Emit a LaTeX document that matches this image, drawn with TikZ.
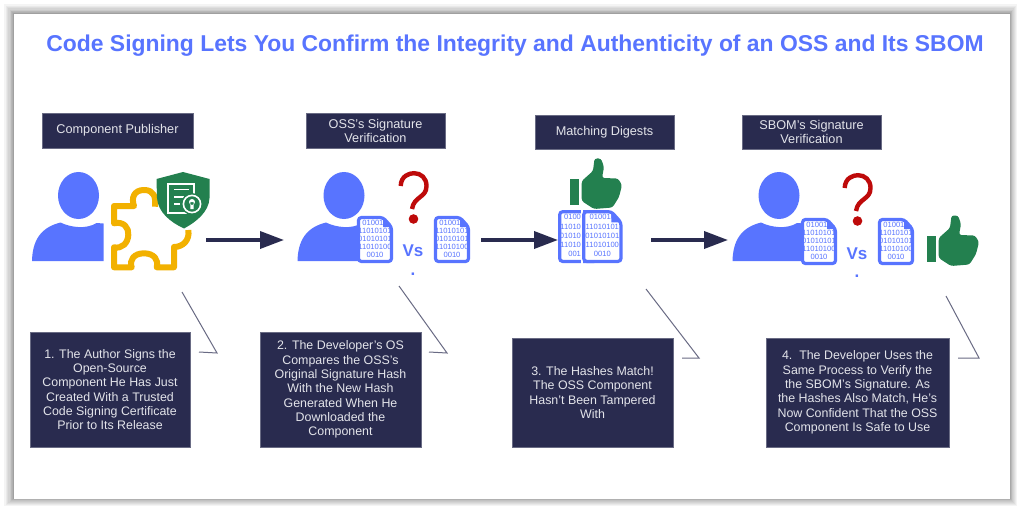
\documentclass[tikz,border=0pt]{standalone}
\usepackage{fontspec}
\setmainfont{Liberation Sans}
\usetikzlibrary{arrows.meta}
\definecolor{navy}{HTML}{292B4F}
\definecolor{azure}{HTML}{5874FF}
\definecolor{leaf}{HTML}{23804F}
\definecolor{gold}{HTML}{F2B100}
\definecolor{crimson}{HTML}{BE0A0A}
\definecolor{paper}{HTML}{E3E4EA}
\tikzset{
  pics/person/.style={code={
    \fill[azure] (0,0) ellipse [x radius=20.5,y radius=23.5];
    \fill[azure] (-46.5,65.5) .. controls (-46,45) and (-38,32) .. (-18,27)
      .. controls (-8,32) and (8,34) .. (18,27.5) -- (25,28) -- (25,65.5) -- cycle;
  }},
  pics/query/.style={code={
    \draw[crimson,line width=4.4pt] (-12.3,15) .. controls (-12,5) and (-4,2.2) .. (1,2.2)
      .. controls (8,2.2) and (13.5,7) .. (13.5,15) .. controls (13.5,27) and (1,25) .. (-1,38);
    \fill[crimson] (0.5,48) circle (4.8);
  }},
  pics/approve/.style={code={
    \fill[leaf] (1,19) rectangle (9.5,44.5);
    \fill[leaf,rounded corners=2.5pt] (12.7,21) -- (24,11) -- (25.5,-1.5) -- (32,-1.5) -- (35,7) -- (33,18)
      -- (49,18.5) -- (53,25) -- (50,37) -- (43.5,47.5) -- (25,49) -- (12.7,41) -- cycle;
  }},
  pics/digest/.style={code={
    \draw[docsheet] (1.5,1.5) -- (26,1.5) -- (34.5,11) -- (34.5,45.5) -- (1.5,45.5) -- cycle;
    \begin{scope}
      \clip (3,3) rectangle (33,44);
      \foreach \row/\ypos/\bits in {a/6.5/010010,b/15/11010101,c/23/01010101,d/31/11010100,e/39/0010}
        \node[digits] (#1\row) at (18,\ypos) {\bits};
    \end{scope}
    \fill[azure] (26,1.5) -- (26,11) -- (34.5,11) -- cycle;
  }},
  pics/halfdigest/.style={code={
    \draw[docsheet] (1.5,1.5) -- (34.5,1.5) -- (34.5,45.5) -- (1.5,45.5) -- cycle;
    \foreach \row/\ypos/\bits in {a/6.5/0100,b/15/11010,c/23/01010,d/31/11010,e/39/001}
      \node[digits,anchor=east] (#1\row) at (20.5,\ypos) {\bits};
  }},
  docsheet/.style={draw=azure,line width=3.2pt,fill=white,rounded corners=3pt},
  digits/.style={text=azure,inner sep=0pt,font=\fontsize{7.6}{9}\selectfont},
  headbox/.style={fill=navy,draw=navy!70!white,line width=0.5pt,text=paper,align=center,inner sep=0pt,
    font=\fontsize{12.7}{14}\selectfont},
  capbox/.style={fill=navy,draw=navy!70!white,line width=0.5pt,text=paper,align=center,inner sep=0pt,
    font=\fontsize{12.4}{14.3}\selectfont},
  flow/.style={navy,line width=3.6pt,-{Triangle[length=24pt,width=17pt]}},
  callout/.style={draw=navy!70!white,line width=1pt},
  versus/.style={text=azure,inner sep=0pt,font=\fontsize{17}{17}\selectfont\bfseries}
}
\begin{document}
\begin{tikzpicture}[x=1pt,y=-1pt]
  \useasboundingbox (0,0) rectangle (1024,513);
  \fill[white] (0,0) rectangle (1024,513);

  % card and its shadow
  \foreach \grow in {12,11,...,1}
    \fill[black,opacity=0.045] (14-\grow*\grow*0.07,14-\grow*\grow*0.07) rectangle (1010+\grow*\grow*0.05,498.5+\grow*\grow*0.05);
  \fill[white] (14,14) rectangle (1010,498.5);

  \node[text=azure,inner sep=0pt,font=\fontsize{22.9}{25}\selectfont\bfseries] (title) at (515,46)
    {Code Signing Lets You Confirm the Integrity and Authenticity of an OSS and Its SBOM};

  % headings
  \node[headbox,minimum width=151pt,minimum height=35pt] (pubhead) at (117.5,130.5) {Component Publisher};
  \node[headbox,minimum width=139pt,minimum height=35pt] (osshead) at (375.5,130.5) {OSS's Signature\\Verification};
  \node[headbox,minimum width=139pt,minimum height=34pt] (mathead) at (604.5,132) {Matching Digests};
  \node[headbox,minimum width=139pt,minimum height=34pt] (sbohead) at (811.5,132) {SBOM's Signature\\Verification};

  % step 1
  \pic at (78.5,195.5) {person};
  \draw[gold,line width=6pt,line join=round] (155,206.7) .. controls (156,197) and (154,190) .. (144,190)
    .. controls (134,190) and (131,198) .. (134,206) -- (114,206) -- (114,223.3)
    .. controls (124,221) and (129,228) .. (128.3,235) .. controls (128,243) and (122,249) .. (114,247.3)
    -- (114,267.3) -- (131.7,267.3) .. controls (129,260) and (134,253.3) .. (144,253.3)
    .. controls (154,253.3) and (159,260) .. (156.7,267.3) -- (174,267.3) -- (174,247)
    .. controls (183,247) and (190,240) .. (188.3,230);
  \fill[leaf] (183,172) -- (209.5,179) -- (209.5,198) .. controls (209,212) and (196,222) .. (184,228.5)
    .. controls (170,222) and (158,212) .. (157,198) -- (156.5,179) -- cycle;
  \draw[white,line width=1.8pt] (187,213) -- (168,213) -- (168,184) -- (194,184) -- (194,197);
  \draw[white,line width=1.8pt] (174,189.5) -- (189,189.5) (174,197) -- (184,197) (174,204) -- (180,204);
  \fill[leaf] (192,204) circle (11);
  \draw[white,line width=1.6pt] (192,204) circle (8.6);
  \fill[white] (192,202) circle (3) (190.3,202) rectangle (193.7,209);

  % step 2
  \pic at (344,195.5) {person};
  \pic at (357,216) {digest=p};
  \pic at (413,171) {query};
  \node[versus] (vsa) at (413,251) {Vs};
  \node[versus] (dota) at (413,274) {.};
  \pic at (434,216) {digest=q};

  % step 3
  \pic at (569,160) {approve};
  \pic[scale=1.13] at (558,210) {halfdigest=r};
  \fill[white] (580.5,208) rectangle (582.5,265);
  \pic[scale=1.13] at (582,210) {digest=s};

  % step 4
  \pic at (779,195.5) {person};
  \pic at (801,218) {digest=t};
  \pic at (857,173) {query};
  \node[versus] (vsb) at (857,254) {Vs};
  \node[versus] (dotb) at (857,276) {.};
  \pic at (878,218) {digest=u};
  \pic at (926,217) {approve};

  % arrows
  \coordinate (flowa) at (206,240);
  \coordinate (flowb) at (284,240);
  \coordinate (flowc) at (481,240);
  \coordinate (flowd) at (558,240);
  \coordinate (flowe) at (651,240);
  \coordinate (flowf) at (728,240);
  \draw[flow] (flowa) -- (flowb);
  \draw[flow] (flowc) -- (flowd);
  \draw[flow] (flowe) -- (flowf);

  % captions
  \node[capbox,minimum width=160pt,minimum height=115pt] (capa) at (110,389.5)
    {1. The Author Signs the\\Open-Source\\Component He Has Just\\Created With a Trusted\\Code Signing Certificate\\Prior to Its Release};
  \node[capbox,minimum width=161pt,minimum height=115pt] (capb) at (340.5,389.5)
    {2. The Developer's OS\\Compares the OSS's\\Original Signature Hash\\With the New Hash\\Generated When He\\Downloaded the\\Component};
  \node[capbox,minimum width=161pt,minimum height=109pt] (capc) at (592.5,392.5)
    {3. The Hashes Match!\\The OSS Component\\Hasn't Been Tampered\\With};
  \node[capbox,minimum width=183pt,minimum height=109pt] (capd) at (857.5,392.5)
    {4.\ \ The Developer Uses the\\Same Process to Verify the\\the SBOM's Signature. As\\the Hashes Also Match, He's\\Now Confident That the OSS\\Component Is Safe to Use};

  % callout strokes
  \coordinate (tipa) at (182,292);
  \coordinate (kneea) at (217,353);
  \coordinate (taila) at (199,352);
  \coordinate (tipb) at (399,286);
  \coordinate (kneeb) at (447,353);
  \coordinate (tailb) at (429,352);
  \coordinate (tipc) at (646,289);
  \coordinate (kneec) at (699,358);
  \coordinate (tailc) at (682,358);
  \coordinate (tipd) at (946,296);
  \coordinate (kneed) at (979,358);
  \coordinate (taild) at (958,358);
  \draw[callout] (tipa) -- (kneea) -- (taila);
  \draw[callout] (tipb) -- (kneeb) -- (tailb);
  \draw[callout] (tipc) -- (kneec) -- (tailc);
  \draw[callout] (tipd) -- (kneed) -- (taild);
\end{tikzpicture}
\end{document}
